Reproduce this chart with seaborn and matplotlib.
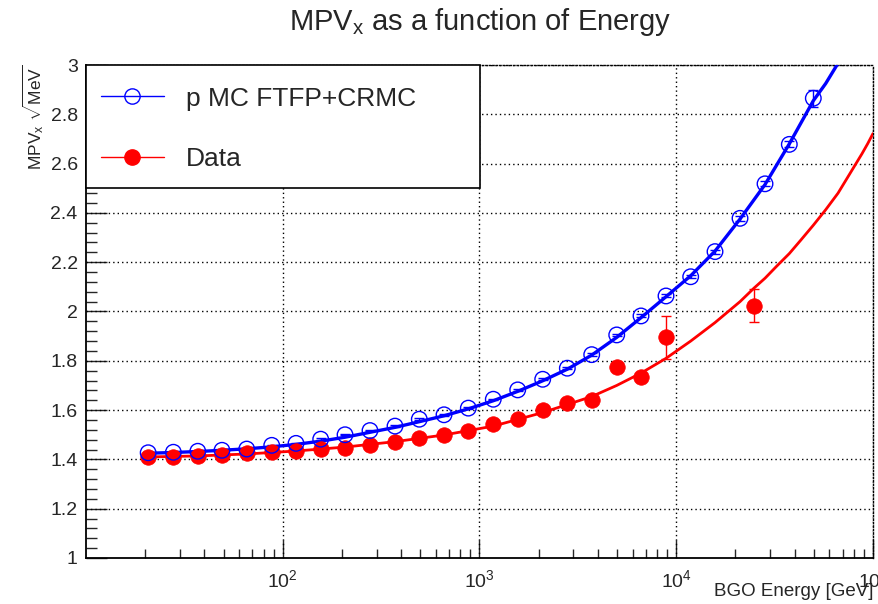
import math
import matplotlib
matplotlib.use("Agg")
import matplotlib.pyplot as plt
from matplotlib.lines import Line2D
from matplotlib.patches import Rectangle
from matplotlib.ticker import LogLocator, FixedLocator, MultipleLocator, FuncFormatter
import seaborn as sns
import pandas as pd

# ---------------- data ----------------
energy_mc = [20.7, 27.8, 37.0, 49.1, 65.6, 87.9, 116.8, 155.9, 207.3, 277.6,
             372.0, 494.3, 660.1, 877.4, 1175, 1564, 2095, 2795, 3718, 4982,
             6620, 8870, 11840, 15740, 21090, 28260, 37550, 49730]
mpv_mc = [1.427, 1.429, 1.433, 1.437, 1.442, 1.457, 1.465, 1.482, 1.500, 1.517,
          1.535, 1.563, 1.581, 1.608, 1.644, 1.682, 1.725, 1.770, 1.825, 1.905,
          1.982, 2.063, 2.141, 2.243, 2.378, 2.518, 2.678, 2.865]
err_mc = [0.003, 0.003, 0.003, 0.003, 0.003, 0.003, 0.003, 0.003, 0.003, 0.003,
          0.003, 0.003, 0.003, 0.003, 0.003, 0.004, 0.004, 0.004, 0.005, 0.005,
          0.006, 0.006, 0.007, 0.008, 0.009, 0.010, 0.012, 0.035]

energy_data = [20.7, 27.8, 37.0, 49.1, 65.6, 87.9, 116.8, 155.9, 207.3, 277.6,
               372.0, 494.3, 660.1, 877.4, 1175, 1564, 2095, 2795, 3718, 4982,
               6620, 8870, 24850]
mpv_data = [1.409, 1.411, 1.414, 1.418, 1.425, 1.429, 1.434, 1.441, 1.447, 1.460,
            1.469, 1.486, 1.499, 1.516, 1.544, 1.563, 1.600, 1.628, 1.640, 1.776,
            1.735, 1.895, 2.024]
err_data = [0.002, 0.002, 0.002, 0.002, 0.002, 0.002, 0.002, 0.002, 0.002, 0.002,
            0.002, 0.003, 0.003, 0.003, 0.004, 0.004, 0.005, 0.006, 0.007, 0.010,
            0.012, 0.086, 0.066]

# fitted curves
fit_mc_energy = [20.7, 27.8, 37.0, 49.1, 65.6, 87.9, 116.8, 155.9, 207.3, 277.6,
                 372.0, 494.3, 660.1, 877.4, 1175, 1564, 2095, 2795, 3718, 4982,
                 6620, 8870, 11840, 15740, 21090, 28260, 37550, 49730, 57500,
                 65600, 72100]
fit_mc = [1.425, 1.428, 1.432, 1.437, 1.443, 1.451, 1.461, 1.474, 1.490, 1.510,
          1.530, 1.553, 1.577, 1.605, 1.638, 1.676, 1.719, 1.766, 1.823, 1.895,
          1.975, 2.060, 2.145, 2.245, 2.375, 2.515, 2.680, 2.855, 2.925, 3.0, 3.06]
fit_data_energy = [20.7, 37.0, 65.6, 116.8, 207.3, 372.0, 660.1, 1175, 2095, 3718,
                   4982, 6620, 8870, 11840, 15740, 21090, 24850, 28260, 32500,
                   37550, 43000, 49730, 57500, 66400, 76000, 87900, 94000, 100000]
fit_data = [1.410, 1.414, 1.422, 1.434, 1.450, 1.472, 1.499, 1.535, 1.590, 1.655,
            1.700, 1.750, 1.810, 1.880, 1.955, 2.040, 2.095, 2.135, 2.185,
            2.235, 2.290, 2.350, 2.413, 2.480, 2.557, 2.640, 2.681, 2.722]

y_ticks = [1, 1.2, 1.4, 1.6, 1.8, 2, 2.2, 2.4, 2.6, 2.8, 3]
x_ticks = [1e2, 1e3, 1e4, 1e5]
labels = ["p MC FTFP+CRMC", "Data"]
title = r"MPV$_{\mathrm{x}}$ as a function of Energy"
xlabel = "BGO Energy [GeV]"
ylabel = r"MPV$_{\mathrm{x}}$ $\sqrt{\mathrm{MeV}}$"

# ---------------- style ----------------
sns.set_theme(style="white")
plt.rcParams["font.family"] = ["Liberation Sans", "DejaVu Sans"]
plt.rcParams["mathtext.fontset"] = "custom"
plt.rcParams["mathtext.rm"] = "Liberation Sans"
plt.rcParams["mathtext.it"] = "Liberation Sans:italic"
plt.rcParams["mathtext.bf"] = "Liberation Sans:bold"

BLUE = "#0000ff"
RED = "#ff0000"

fig = plt.figure(figsize=(8.79, 6.04), dpi=100)
ax = fig.add_axes([86 / 879, 1 - 558 / 604, 787 / 879, 493 / 604])

df_fit_mc = pd.DataFrame({"E": fit_mc_energy, "v": fit_mc})
df_fit_data = pd.DataFrame({"E": fit_data_energy, "v": fit_data})
df_mc = pd.DataFrame({"E": energy_mc, "v": mpv_mc, "e": err_mc})
df_data = pd.DataFrame({"E": energy_data, "v": mpv_data, "e": err_data})

ax.set_xscale("log")
ax.set_xlim(10, 1e5)
ax.set_ylim(1, 3)

# grid
for yv in y_ticks[1:]:
    ax.axhline(yv, color="black", lw=1.0, ls=(0, (1, 2.2)), zorder=1)
for xv in x_ticks:
    ax.axvline(xv, color="black", lw=1.0, ls=(0, (1, 2.2)), zorder=1)

# fitted curves
sns.lineplot(data=df_fit_data, x="E", y="v", ax=ax, color=RED, lw=2.0,
             sort=False, estimator=None, zorder=3)
sns.lineplot(data=df_fit_mc, x="E", y="v", ax=ax, color=BLUE, lw=2.4,
             sort=False, estimator=None, zorder=3)

# error bars
ax.errorbar(df_data["E"], df_data["v"], yerr=df_data["e"], fmt="none",
            ecolor=RED, elinewidth=1.0, capsize=3.5, capthick=1.0, zorder=4)
ax.errorbar(df_mc["E"], df_mc["v"], yerr=df_mc["e"], fmt="none",
            ecolor=BLUE, elinewidth=1.0, capsize=3.5, capthick=1.0, zorder=4)

# markers
sns.scatterplot(data=df_data, x="E", y="v", ax=ax, color=RED, s=125,
                edgecolor=RED, linewidth=0.5, zorder=5)
sns.scatterplot(data=df_mc, x="E", y="v", ax=ax, facecolor="none",
                edgecolor=BLUE, s=125, linewidth=1.0, zorder=6)

# axes / ticks (ROOT-like)
ax.yaxis.set_major_locator(FixedLocator(y_ticks))
ax.yaxis.set_minor_locator(MultipleLocator(0.04))
ax.yaxis.set_major_formatter(FuncFormatter(lambda v, p: f"{v:g}"))
ax.xaxis.set_major_locator(FixedLocator(x_ticks))
ax.xaxis.set_major_formatter(FuncFormatter(
    lambda v, p: r"$10^{%d}$" % round(math.log10(v))))
ax.xaxis.set_minor_locator(LogLocator(base=10, subs=range(2, 10), numticks=20))
ax.tick_params(axis="y", which="major", direction="in", length=15, width=1.0,
               labelsize=14, pad=6, left=True, right=False)
ax.tick_params(axis="y", which="minor", direction="in", length=8, width=1.0,
               left=True, right=False)
ax.tick_params(axis="x", which="major", direction="in", length=13, width=1.0,
               labelsize=14, pad=8, bottom=True, top=False)
ax.tick_params(axis="x", which="minor", direction="in", length=6.5, width=1.0,
               bottom=True, top=False)
ax.set_xlabel("")
ax.set_ylabel("")

for side in ["left", "bottom"]:
    ax.spines[side].set_color("black")
    ax.spines[side].set_linewidth(1.3)
for side in ["top", "right"]:
    ax.spines[side].set_color("black")
    ax.spines[side].set_linewidth(1.0)
    ax.spines[side].set_linestyle((0, (1, 1.5)))

# legend box
ax.add_patch(Rectangle((0, 1 - 123 / 493), 394 / 787, 123 / 493,
                       transform=ax.transAxes, facecolor="white",
                       edgecolor="black", lw=1.2, zorder=10, clip_on=False))
handles = [
    Line2D([], [], color=BLUE, lw=1.0, marker="o", markersize=11,
           markerfacecolor="none", markeredgecolor=BLUE, markeredgewidth=1.0),
    Line2D([], [], color=RED, lw=1.0, marker="o", markersize=11,
           markerfacecolor=RED, markeredgecolor=RED),
]
leg = ax.legend(handles, labels, loc="upper left",
                bbox_to_anchor=(4 / 787, 1 - 11 / 493), frameon=False,
                fontsize=19, handlelength=2.4, handletextpad=0.85,
                labelspacing=1.4, borderaxespad=0)
leg.set_zorder(11)

# titles and labels
fig.text(480 / 879, 1 - 22 / 604, title, ha="center", va="center", fontsize=21)
fig.text(874 / 879, 1 - 592 / 604, xlabel, ha="right", va="center", fontsize=13.5)
fig.text(33 / 879, 1 - 64 / 604, ylabel, ha="center", va="top", rotation=90,
         fontsize=12.5)

fig.savefig("out.png", dpi=100)
